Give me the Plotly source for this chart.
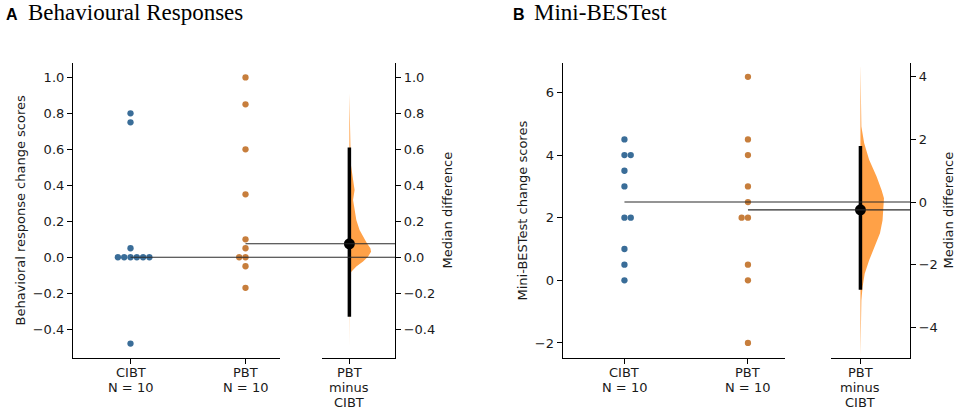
import numpy as np
import plotly.graph_objects as go

W, H = 957, 412

# ---- data ----
groups = ["CIBT", "PBT"]
group_n = [10, 10]
diff_label = ["PBT", "minus", "CIBT"]

behav_cibt = [0.80, 0.75, 0.05, 0, 0, 0, 0, 0, 0, -0.48]
behav_pbt = [1.00, 0.85, 0.60, 0.35, 0.10, 0.05, 0, 0, -0.05, -0.17]
behav_ci = [-0.33, 0.61]
# bootstrap distribution of the median difference (value, relative width)
behav_boot_y = [-0.50, -0.20, -0.098, -0.08, -0.052, -0.024, 0.003, 0.031, 0.05, 0.078,
                0.114, 0.152, 0.207, 0.263, 0.318, 0.374, 0.429, 0.522, 0.614, 0.75, 0.91]
behav_boot_w = [0.0, 0.01, 0.02, 0.09, 0.32, 0.63, 0.86, 1.0, 0.97, 0.81,
                0.63, 0.47, 0.32, 0.24, 0.17, 0.24, 0.17, 0.06, 0.05, 0.02, 0.0]

mini_cibt = [4.5, 4, 4, 3.5, 3, 2, 2, 1, 0.5, 0]
mini_pbt = [6.5, 4.5, 4, 3, 2.5, 2, 2, 0.5, 0, -2]
mini_ci = [-2.80, 1.79]
mini_boot_y = [-4.96, -4.21, -3.14, -2.71, -2.29, -1.86, -1.43, -1.0, -0.58, -0.15,
               0.12, 0.38, 0.81, 1.35, 1.88, 2.41, 3.5, 4.40]
mini_boot_w = [0.0, 0.01, 0.04, 0.09, 0.18, 0.37, 0.61, 0.83, 0.94, 0.97,
               1.0, 0.90, 0.69, 0.37, 0.16, 0.04, 0.01, 0.0]

# ---- styles ----
blue = "#3a6d98"
orange = "#c77e3c"
violin = "rgba(255,140,30,0.82)"
font = dict(family="DejaVu Sans", size=13, color="#1a1a1a")
axis_style = dict(showline=True, linecolor="black", linewidth=1.2, ticks="outside",
                  ticklen=5, tickwidth=1.2, tickcolor="black", showgrid=False,
                  zeroline=False, tickfont=font, fixedrange=True)


def fx(p):
    return p / W


def fy(p):
    return 1 - p / H


def swarm(values, y_px_per_unit, spacing, first_side, dot_px=6.0):
    placed = []
    offs = []
    cands = [0]
    for step in range(1, 10):
        cands += [first_side * step, -first_side * step]
    for v in values:
        for k in cands:
            if all(not (pk == k and abs(pv - v) * y_px_per_unit < dot_px) for pk, pv in placed):
                break
        placed.append((k, v))
        offs.append(k * spacing)
    return offs


fig = go.Figure()


def add_panel(n, geo, ctrl, test, yrange, ytick, rtick, yfmt, ci, boot_y, boot_w,
              letter, title, ytitle):
    ax = ["" if 3 * n + i == 1 else str(3 * n + i) for i in (1, 2, 3)]
    left, left_end, diff_start, right, top, bottom = geo[:6]
    unit = 1.8 / (left_end - left)          # x units per pixel
    ypx = (bottom - top) / (yrange[1] - yrange[0])
    c_med = float(np.median(ctrl))
    t_med = float(np.median(test))
    rrange = [yrange[0] - c_med, yrange[1] - c_med]

    # swarm points
    for i, (vals, col, side) in enumerate([(ctrl, blue, 1), (test, orange, -1)]):
        offs = swarm(vals, ypx, 6.3 * unit, side)
        fig.add_trace(go.Scatter(x=[i + o for o in offs], y=vals, mode="markers",
                                 marker=dict(color=col, size=6.3, line=dict(width=0)),
                                 xaxis="x" + ax[0], yaxis="y" + ax[0],
                                 showlegend=False, hoverinfo="skip"))

    # bootstrap half violin
    maxw = 0.19
    vx = [w * maxw for w in boot_w] + [0, 0]
    vy = list(boot_y) + [boot_y[-1], boot_y[0]]
    fig.add_trace(go.Scatter(x=vx, y=vy, fill="toself", fillcolor=violin, mode="lines",
                             line=dict(width=0), xaxis="x" + ax[1], yaxis="y" + ax[1],
                             showlegend=False, hoverinfo="skip"))
    fig.add_trace(go.Scatter(x=[0, 0], y=ci, mode="lines", line=dict(color="black", width=3.5),
                             xaxis="x" + ax[1], yaxis="y" + ax[1], showlegend=False,
                             hoverinfo="skip"))
    fig.add_trace(go.Scatter(x=[0], y=[t_med - c_med], mode="markers",
                             marker=dict(color="black", size=11),
                             xaxis="x" + ax[1], yaxis="y" + ax[1], showlegend=False,
                             hoverinfo="skip"))

    # median reference lines across both axes
    ov_end = -0.5 + (right - left) * unit
    for start, med in [(0, c_med), (1, t_med)]:
        fig.add_trace(go.Scatter(x=[start, ov_end], y=[med, med], mode="lines",
                                 line=dict(color="#2b2b2b", width=1.1),
                                 xaxis="x" + ax[2], yaxis="y" + ax[0], showlegend=False,
                                 hoverinfo="skip"))

    ydom = [fy(bottom), fy(top)]
    fig.update_layout({
        "xaxis" + ax[0]: dict(axis_style, domain=[fx(left), fx(left_end)], range=[-0.5, 1.3],
                              anchor="y" + ax[0], tickvals=[0, 1], showticklabels=False),
        "yaxis" + ax[0]: dict(axis_style, domain=ydom, range=yrange, anchor="x" + ax[0],
                              tickvals=ytick, tickformat=yfmt),
        "xaxis" + ax[1]: dict(axis_style, domain=[fx(diff_start), fx(right)],
                              range=[-0.24, 0.40], anchor="y" + ax[1], tickvals=[0],
                              showticklabels=False),
        "yaxis" + ax[1]: dict(axis_style, domain=ydom, range=rrange, anchor="x" + ax[1],
                              side="right", tickvals=rtick, tickformat=yfmt),
        "xaxis" + ax[2]: dict(domain=[fx(left), fx(right)], range=[-0.5, ov_end],
                              anchor="y" + ax[0], visible=False, fixedrange=True),
    })

    # category labels under the ticks, one line each (matplotlib-like line spacing)
    labels = [("x" + ax[0], i, [g, "N = %d" % nn]) for i, (g, nn) in enumerate(zip(groups, group_n))]
    labels.append(("x" + ax[1], 0, diff_label))
    for xr, xv, lines in labels:
        for j, line in enumerate(lines):
            fig.add_annotation(x=xv, xref=xr, y=fy(372.5 + 15 * j), yref="paper", text=line,
                               showarrow=False, xanchor="center", yanchor="middle", font=font)

    fig.add_annotation(x=fx(geo[6]), y=fy(4), xref="paper", yref="paper", text="<b>%s</b>" % letter,
                       showarrow=False, xanchor="left", yanchor="top",
                       font=dict(family="Liberation Sans", size=16, color="black"))
    fig.add_annotation(x=fx(geo[7]), y=fy(-2), xref="paper", yref="paper", text=title,
                       showarrow=False, xanchor="left", yanchor="top",
                       font=dict(family="Liberation Serif", size=23, color="black"))
    fig.add_annotation(x=fx(geo[8]), y=fy((top + bottom) / 2), xref="paper", yref="paper",
                       text=ytitle, textangle=-90, showarrow=False,
                       xanchor="center", yanchor="middle", font=font)
    fig.add_annotation(x=fx(geo[9]), y=fy((top + bottom) / 2), xref="paper", yref="paper",
                       text="Median difference", textangle=-90, showarrow=False,
                       xanchor="center", yanchor="middle", font=font)


add_panel(0, (73, 280, 322, 395, 63, 358, 4, 26, 20, 447), behav_cibt, behav_pbt,
          [-0.56, 1.08], [-0.4, -0.2, 0, 0.2, 0.4, 0.6, 0.8, 1.0],
          [-0.4, -0.2, 0, 0.2, 0.4, 0.6, 0.8, 1.0], ".1f", behav_ci, behav_boot_y, behav_boot_w,
          "A", "Behavioural Responses", "Behavioral response change scores")
add_panel(1, (562.7, 785, 830.7, 910, 63, 358, 511, 532, 522, 948), mini_cibt, mini_pbt,
          [-2.48, 6.94], [-2, 0, 2, 4, 6], [-4, -2, 0, 2, 4], "d", mini_ci,
          mini_boot_y, mini_boot_w, "B", "Mini-BESTest", "Mini-BESTest change scores")

fig.update_layout(width=W, height=H, margin=dict(l=0, r=0, t=0, b=0),
                  paper_bgcolor="white", plot_bgcolor="rgba(0,0,0,0)", showlegend=False)
# page body margin would push the 957x412 figure off the window
fig.write_html("out.html", config={"displayModeBar": False},
               post_script="document.body.style.margin='0px';")
